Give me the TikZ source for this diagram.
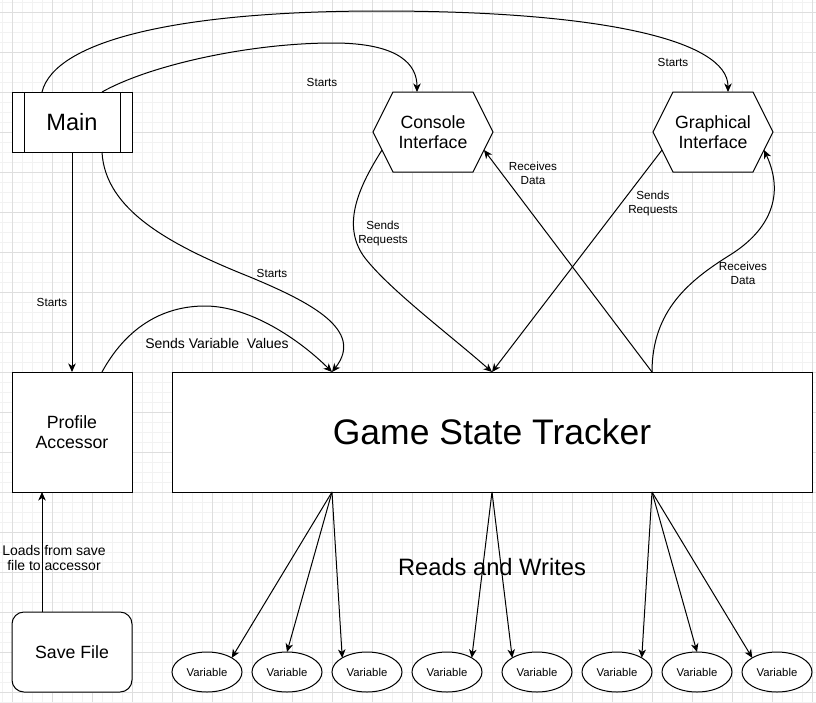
\documentclass[tikz,border=0pt]{standalone}
\usepackage{fontspec}
\setmainfont{Liberation Sans}
\usetikzlibrary{arrows.meta,calc,shapes.geometric}
\tikzset{
  minorgrid/.style={draw=black!5, line width=1pt},
  majorgrid/.style={draw=black!13, line width=1pt},
  box/.style={draw=black, fill=white, line width=1pt, inner sep=0pt, outer sep=0pt, align=center, font=\fontsize{17.7}{20.4}\selectfont},
  hexframe/.style={inner sep=0pt, outer sep=0pt, minimum width=120pt, minimum height=80pt},
  hexline/.style={draw=black, fill=white, line width=1pt},
  hextext/.style={inner sep=0pt, align=center, font=\fontsize{17.7}{20.4}\selectfont},
  var/.style={ellipse, draw=black, fill=white, line width=1pt, minimum width=70pt, minimum height=40pt, inner sep=0pt, outer sep=0pt, font=\fontsize{11.3}{13}\selectfont},
  lbl/.style={inner sep=0pt, align=center, font=\fontsize{11.7}{14}\selectfont},
  conn/.style={draw=black, line width=1pt, -{Stealth[length=8.5pt,width=7.5pt,inset=2.5pt]}},
}
\begin{document}
\begin{tikzpicture}[x=1pt,y=-1pt]
\useasboundingbox (0,0) rectangle (816,702);
% grid
\foreach \g in {2,12,...,812} {\draw[minorgrid] (\g,0) -- (\g,702);}
\foreach \g in {2,12,...,702} {\draw[minorgrid] (0,\g) -- (816,\g);}
\foreach \g in {12,52,...,812} {\draw[majorgrid] (\g,0) -- (\g,702);}
\foreach \g in {12,52,...,692} {\draw[majorgrid] (0,\g) -- (816,\g);}

% nodes
\node[box, minimum width=120pt, minimum height=60pt, font=\fontsize{23.6}{27}\selectfont] (main) at (72,122) {Main};
\draw[line width=1pt] ([xshift=12pt]main.north west) -- ([xshift=12pt]main.south west);
\draw[line width=1pt] ([xshift=-12pt]main.north east) -- ([xshift=-12pt]main.south east);

\node[hexframe] (ci) at (433,132) {};
\path[hexline] (ci.west) -- ([xshift=20pt]ci.north west) -- ([xshift=-20pt]ci.north east) -- (ci.east) -- ([xshift=-20pt]ci.south east) -- ([xshift=20pt]ci.south west) -- cycle;
\node[hextext] (citxt) at (ci) {Console\\Interface};

\node[hexframe] (gi) at (713,132) {};
\path[hexline] (gi.west) -- ([xshift=20pt]gi.north west) -- ([xshift=-20pt]gi.north east) -- (gi.east) -- ([xshift=-20pt]gi.south east) -- ([xshift=20pt]gi.south west) -- cycle;
\node[hextext] (gitxt) at (gi) {Graphical\\Interface};

\coordinate (ciSR) at ($(ci.west)!0.45!([xshift=20pt]ci.south west)$);
\coordinate (ciRD) at ($(ci.east)!0.45!([xshift=-20pt]ci.south east)$);
\coordinate (giSR) at ($(gi.west)!0.45!([xshift=20pt]gi.south west)$);
\coordinate (giRD) at ($(gi.east)!0.45!([xshift=-20pt]gi.south east)$);

\node[box, minimum width=120pt, minimum height=120pt] (pa) at (72,432) {Profile\\Accessor};
\node[box, minimum width=640pt, minimum height=120pt, font=\fontsize{35.5}{40}\selectfont] (gst) at (492,432) {Game State Tracker};
\node[box, rounded corners=12pt, minimum width=120pt, minimum height=80pt] (sf) at (72,652) {Save File};

\foreach \i/\x in {1/207,2/287,3/367,4/447,5/537,6/617,7/697,8/777}
  {\node[var] (v\i) at (\x,672) {Variable};}

% connectors
\draw[conn] ([xshift=30pt]main.north) .. controls (150,65) and (250,43) .. (333,43) .. controls (400,43) and (417,65) .. ([xshift=-16pt]ci.north);
\draw[conn] ([xshift=-30pt]main.north) .. controls (55,40) and (180,11) .. (380,11) .. controls (600,11) and (728,40) .. ([xshift=15pt]gi.north);
\draw[conn] (main.south) -- (pa.north);
\draw[conn] ([xshift=30pt]main.south) .. controls (105,210) and (170,245) .. (250,277) .. controls (310,302) and (365,330) .. ([xshift=-160pt]gst.north);
\draw[conn] ([xshift=30pt]pa.north) .. controls (125,330) and (160,306) .. (205,306) .. controls (250,306) and (300,340) .. ([xshift=-160pt]gst.north);
\draw[conn] (ciSR) .. controls (360,185) and (340,225) .. (365,258) .. controls (390,290) and (450,335) .. (gst.north);
\draw[conn] (giSR) -- (gst.north);
\draw[conn] ([xshift=160pt]gst.north) -- (ciRD);
\draw[conn] ([xshift=160pt]gst.north) .. controls (652,310) and (690,280) .. (730,255) .. controls (770,230) and (785,195) .. (giRD);
\draw[conn] ([xshift=-30pt]sf.north) -- ([xshift=-30pt]pa.south);

\draw[conn] ([xshift=-160pt]gst.south) -- (v1.north east);
\draw[conn] ([xshift=-160pt]gst.south) -- (v2.north);
\draw[conn] ([xshift=-160pt]gst.south) -- (v3.north west);
\draw[conn] (gst.south) -- (v4.north east);
\draw[conn] (gst.south) -- (v5.north west);
\draw[conn] ([xshift=160pt]gst.south) -- (v6.north east);
\draw[conn] ([xshift=160pt]gst.south) -- (v7.north);
\draw[conn] ([xshift=160pt]gst.south) -- (v8.north west);

% labels
\node[lbl] (lbStartsCI) at (322,82) {Starts};
\node[lbl] (lbStartsGI) at (673,62) {Starts};
\node[lbl] (lbStartsPA) at (52,302) {Starts};
\node[lbl] (lbStartsGST) at (272,273) {Starts};
\node[lbl, font=\fontsize{14}{16}\selectfont] (lbSVV) at (217,343) {Sends Variable\ \ Values};
\node[lbl] (lbSR1) at (383,233) {Sends\\Requests};
\node[lbl] (lbSR2) at (653,203) {Sends\\Requests};
\node[lbl] (lbRD1) at (533,173) {Receives\\Data};
\node[lbl] (lbRD2) at (743,273) {Receives\\Data};
\node[lbl, font=\fontsize{14}{15.4}\selectfont] (lbLoads) at (54,558) {Loads from save\\file to accessor};
\node[lbl, font=\fontsize{23.7}{27}\selectfont] (lbRW) at (492,567) {Reads and Writes};
\end{tikzpicture}
\end{document}
